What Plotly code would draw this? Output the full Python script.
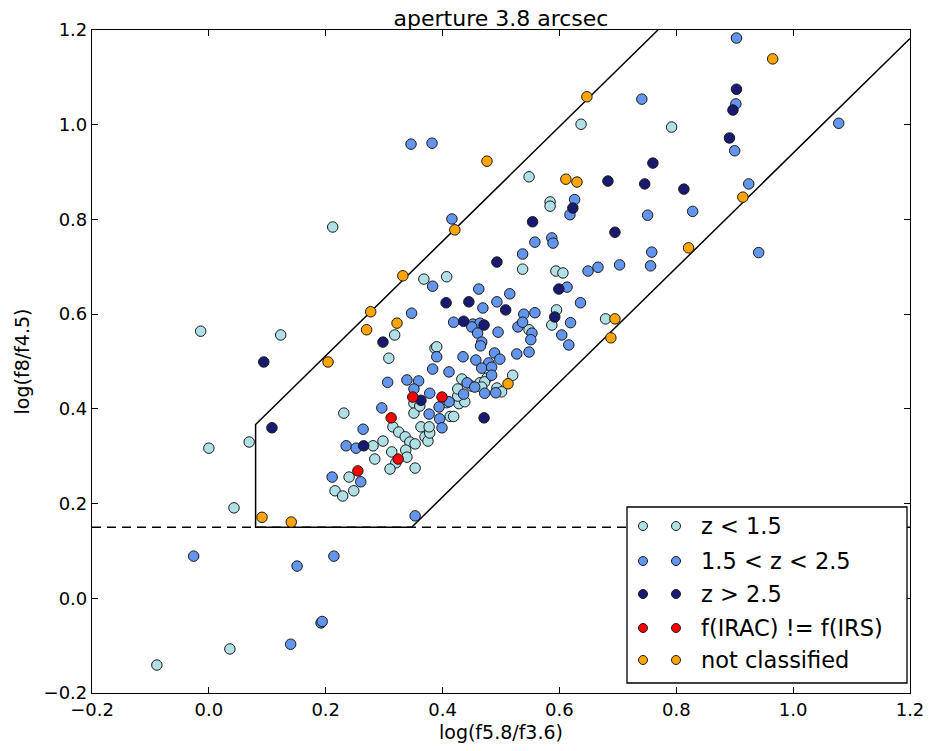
import plotly.graph_objects as go

# ---------------- data ----------------
lowz_x = [0.212, -0.014, 0.123, 0.000, 0.069, 0.231, 0.043, -0.089, 0.036,
          0.240, 0.216, 0.229, 0.248,
          0.315, 0.325, 0.336, 0.344, 0.353, 0.281, 0.298, 0.284, 0.313, 0.337,
          0.339, 0.320, 0.310, 0.353, 0.351, 0.351, 0.363, 0.370, 0.375, 0.378,
          0.377, 0.361, 0.413, 0.419, 0.407, 0.428, 0.438, 0.426, 0.426, 0.433,
          0.450, 0.464, 0.476, 0.472, 0.467, 0.493, 0.501, 0.520,
          0.308, 0.318, 0.368, 0.407, 0.387, 0.390, 0.537, 0.594, 0.606, 0.595,
          0.587, 0.679, 0.548,
          0.637, 0.548, 0.584, 0.584, 0.792]
lowz_y = [0.784, 0.564, 0.556, 0.317, 0.330, 0.391, 0.191, -0.141, -0.107,
          0.256, 0.227, 0.216, 0.227,
          0.362, 0.351, 0.341, 0.330, 0.326, 0.322, 0.332, 0.294, 0.309, 0.313,
          0.298, 0.286, 0.273, 0.275, 0.412, 0.391, 0.362, 0.341, 0.332, 0.349,
          0.362, 0.406, 0.384, 0.384, 0.413, 0.411, 0.415, 0.427, 0.442, 0.463,
          0.448, 0.455, 0.465, 0.457, 0.446, 0.444, 0.436, 0.471,
          0.507, 0.556, 0.674, 0.679, 0.528, 0.531, 0.695, 0.691, 0.687, 0.609,
          0.577, 0.590, 0.567,
          1.001, 0.890, 0.837, 0.828, 0.995]

midz_x = [-0.026, 0.151, 0.214, 0.192, 0.194, 0.140, 0.353, 0.211, 0.260,
          0.306, 0.339, 0.359, 0.351, 0.296, 0.264, 0.235, 0.252, 0.378, 0.442,
          0.455, 0.436, 0.472, 0.491, 0.377, 0.394, 0.395, 0.399, 0.411, 0.390,
          0.383, 0.411, 0.435, 0.457, 0.489, 0.498, 0.479, 0.467, 0.484, 0.484,
          0.347, 0.383, 0.462, 0.515, 0.493, 0.469, 0.539, 0.558, 0.419, 0.452,
          0.464, 0.450, 0.495, 0.529, 0.537, 0.460, 0.467, 0.465, 0.553, 0.551,
          0.548, 0.527, 0.604, 0.616, 0.619, 0.636, 0.613, 0.649, 0.666, 0.703,
          0.756, 0.537, 0.558, 0.587, 0.589, 0.618, 0.626, 0.751, 0.828, 0.758,
          0.941, 0.924,
          0.346, 0.382, 0.741, 0.416, 0.903, 0.902, 0.900, 1.078]
midz_y = [0.089, 0.068, 0.089, -0.052, -0.049, -0.097, 0.174, 0.256, 0.246,
          0.456, 0.461, 0.459, 0.442, 0.402, 0.357, 0.322, 0.317, 0.433, 0.455,
          0.446, 0.431, 0.433, 0.434, 0.389, 0.404, 0.379, 0.360, 0.415, 0.510,
          0.484, 0.478, 0.510, 0.503, 0.518, 0.505, 0.497, 0.486, 0.488, 0.471,
          0.602, 0.659, 0.653, 0.643, 0.626, 0.613, 0.600, 0.603, 0.583, 0.579,
          0.581, 0.573, 0.562, 0.573, 0.583, 0.560, 0.541, 0.533, 0.560, 0.546,
          0.520, 0.516, 0.556, 0.535, 0.582, 0.624, 0.657, 0.691, 0.699, 0.704,
          0.702, 0.727, 0.752, 0.761, 0.750, 0.810, 0.842, 0.809, 0.817, 0.731,
          0.730, 0.875,
          0.959, 0.961, 1.054, 0.801, 1.183, 1.044, 0.945, 1.003]

highz_x = [0.903, 0.897, 0.891, 0.760, 0.746, 0.813, 0.683, 0.623, 0.554, 0.695,
           0.493, 0.599, 0.592, 0.406, 0.445, 0.508, 0.436, 0.471, 0.298, 0.363,
           0.471, 0.094, 0.108, 0.265]
highz_y = [1.075, 1.031, 0.972, 0.919, 0.875, 0.864, 0.881, 0.824, 0.795, 0.773,
           0.710, 0.653, 0.594, 0.624, 0.626, 0.609, 0.585, 0.577, 0.541, 0.418,
           0.381, 0.499, 0.360, 0.322]

mismatch_x = [0.349, 0.399, 0.312, 0.324, 0.255]
mismatch_y = [0.425, 0.425, 0.381, 0.294, 0.269]

uncl_x = [0.965, 0.914, 0.821, 0.647, 0.476, 0.611, 0.630, 0.421, 0.277, 0.270,
          0.204, 0.332, 0.322, 0.695, 0.688, 0.512, 0.091, 0.141]
uncl_y = [1.139, 0.847, 0.740, 1.059, 0.923, 0.885, 0.879, 0.778, 0.605, 0.567,
          0.499, 0.681, 0.581, 0.590, 0.550, 0.453, 0.171, 0.161]

series_names = ["z < 1.5", "1.5 < z < 2.5", "z > 2.5", "f(IRAC) != f(IRS)", "not classified"]
series_colors = ["#B0E0E6", "#6495ED", "#191970", "#FF0000", "#FFA500"]

# Donley et al. wedge parameters
wedge_slope = 1.21
wedge_icpt = 0.27
wedge_xmin = 0.08
wedge_ymin = 0.15

x_range = [-0.2, 1.2]
y_range = [-0.2, 1.2]
tick_vals = [-0.2, 0.0, 0.2, 0.4, 0.6, 0.8, 1.0, 1.2]

FONT = "DejaVu Sans"

fig = go.Figure()

# dashed horizontal limit
fig.add_trace(go.Scatter(x=x_range, y=[wedge_ymin, wedge_ymin], mode="lines",
                         line=dict(color="black", width=1.3, dash="9px,6px"),
                         showlegend=False, hoverinfo="skip"))

# wedge
x_right_bottom = (wedge_ymin + wedge_icpt) / wedge_slope
x_top_left = (y_range[1] - wedge_icpt) / wedge_slope
wedge_x = [x_top_left, wedge_xmin, wedge_xmin, x_right_bottom, x_range[1]]
wedge_y = [y_range[1], wedge_slope * wedge_xmin + wedge_icpt, wedge_ymin, wedge_ymin,
           wedge_slope * x_range[1] - wedge_icpt]
fig.add_trace(go.Scatter(x=wedge_x, y=wedge_y, mode="lines",
                         line=dict(color="black", width=1.5),
                         showlegend=False, hoverinfo="skip"))

all_x = [lowz_x, midz_x, highz_x, mismatch_x, uncl_x]
all_y = [lowz_y, midz_y, highz_y, mismatch_y, uncl_y]
for xs, ys, name, col in zip(all_x, all_y, series_names, series_colors):
    fig.add_trace(go.Scatter(x=xs, y=ys, mode="markers", name=name,
                             marker=dict(size=10.5, color=col,
                                         line=dict(color="#1a1a1a", width=1)),
                             showlegend=False))

# ---------- custom legend (matplotlib classic style, two markers per row) ----------
L, R, T, B = 92, 910, 30, 693
def px(xp):
    return (xp - L) / (R - L)
def py(yp):
    return (B - yp) / (B - T)

shapes = [dict(type="rect", xref="paper", yref="paper",
               x0=px(627), x1=px(907), y0=py(683), y1=py(507),
               line=dict(color="black", width=1.3), fillcolor="white", layer="above")]
annotations = []
row_y = [526, 561, 594, 628, 660]
for ry, name, col in zip(row_y, series_names, series_colors):
    for mx in (643, 676):
        shapes.append(dict(type="circle", xref="paper", yref="paper",
                           xsizemode="pixel", ysizemode="pixel",
                           xanchor=px(mx), yanchor=py(ry),
                           x0=-4.5, x1=4.5, y0=-4.5, y1=4.5,
                           fillcolor=col, line=dict(color="#1a1a1a", width=1),
                           layer="above"))
    annotations.append(dict(text=name, xref="paper", yref="paper",
                            x=px(699), y=py(ry), xanchor="left", yanchor="middle",
                            showarrow=False, font=dict(family=FONT, size=22.5, color="black")))

axis_common = dict(showgrid=False, zeroline=False, showline=True, linecolor="black",
                   linewidth=1.2, mirror="ticks", ticks="inside", ticklen=6,
                   tickwidth=1, tickcolor="black", tickvals=tick_vals, automargin=False,
                   tickformat=".1f", tickfont=dict(family=FONT, size=18, color="black"))

fig.update_layout(
    width=929, height=751,
    margin=dict(l=L, r=929 - R, t=T, b=751 - B),
    paper_bgcolor="white", plot_bgcolor="white",
    title=dict(text="aperture 3.8 arcsec", x=0.5, xref="paper", xanchor="center",
               y=1, yref="paper", yanchor="bottom", pad=dict(b=4),
               font=dict(family=FONT, size=22, color="black")),
    xaxis=dict(range=x_range, title=dict(text="log(f5.8/f3.6)", standoff=6,
               font=dict(family=FONT, size=19, color="black")), **axis_common),
    yaxis=dict(range=y_range, title=dict(text="log(f8/f4.5)", standoff=8,
               font=dict(family=FONT, size=19, color="black")), **axis_common),
    shapes=shapes, annotations=annotations, showlegend=False,
)

fig.write_html("out.html")
